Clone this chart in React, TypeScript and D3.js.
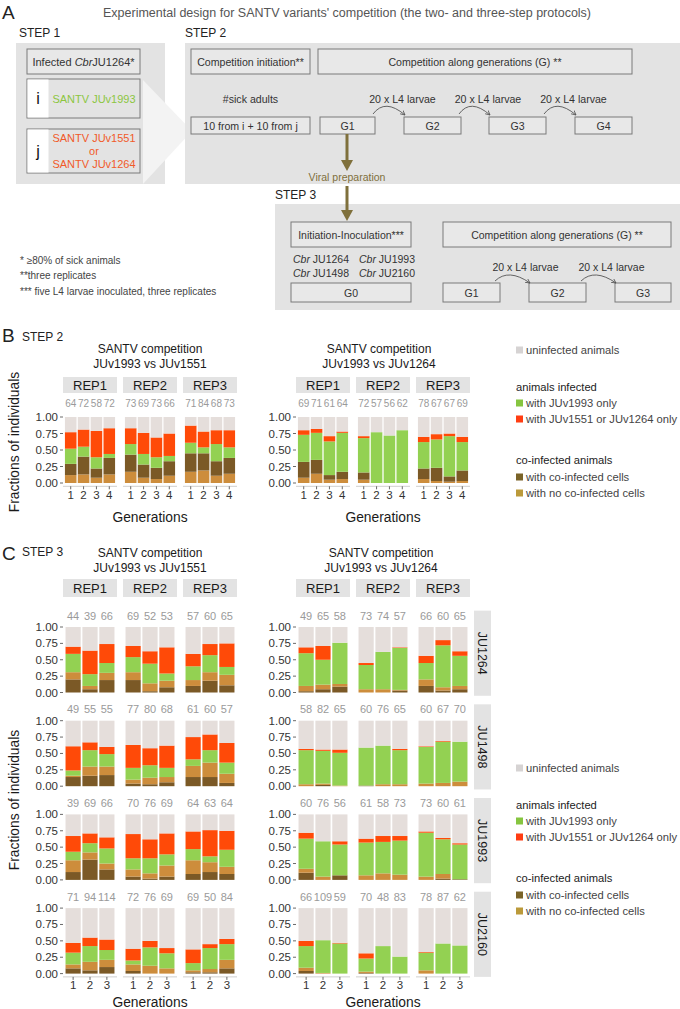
import React from "react";
import * as d3 from "d3";

const FONT = "'Liberation Sans', Arial, Helvetica, sans-serif";

// ---------- categories ----------
const REPS = ["REP1", "REP2", "REP3"];
const GENS_STEP2 = ["1", "2", "3", "4"];
const GENS_STEP3 = ["1", "2", "3"];
const HOSTS = ["JU1264", "JU1498", "JU1993", "JU2160"];
const Y_TICKS = [0, 0.25, 0.5, 0.75, 1];
const Y_TICK_LABELS = ["0.00", "0.25", "0.50", "0.75", "1.00"];

// ---------- STEP 2 (panel B) : cumulative tops [lowest, 2nd, JUv1993, other] ----------
// stacking from bottom in B: no co-infected cells, co-infected cells, JUv1993 only, other only
const B_1551_COUNTS = [64, 72, 58, 72, 73, 69, 73, 66, 71, 84, 68, 73];
const B_1551_TOPS = [
  [0.12, 0.29, 0.52, 0.77], [0.13, 0.40, 0.55, 0.81], [0.08, 0.22, 0.39, 0.79], [0.13, 0.38, 0.44, 0.83],
  [0.17, 0.43, 0.59, 0.83], [0.08, 0.28, 0.44, 0.76], [0.06, 0.23, 0.39, 0.69], [0.11, 0.33, 0.41, 0.75],
  [0.17, 0.45, 0.61, 0.87], [0.19, 0.45, 0.54, 0.78], [0.11, 0.33, 0.59, 0.80], [0.14, 0.38, 0.54, 0.80],
];
const B_1264_COUNTS = [69, 71, 61, 64, 72, 57, 56, 62, 78, 67, 67, 69];
const B_1264_TOPS = [
  [0.08, 0.32, 0.73, 0.80], [0.14, 0.35, 0.76, 0.82], [0.05, 0.12, 0.63, 0.71], [0.06, 0.17, 0.76, 0.78],
  [0.05, 0.16, 0.68, 0.71], [0, 0, 0.77, 0.77], [0, 0, 0.72, 0.72], [0, 0, 0.80, 0.80],
  [0.06, 0.22, 0.62, 0.70], [0.03, 0.23, 0.66, 0.74], [0.02, 0.10, 0.71, 0.75], [0.03, 0.19, 0.62, 0.70],
];

// ---------- STEP 3 (panel C) : cumulative tops [co-infected cells, no co-inf cells, JUv1993, other] ----------
const C_1551_COUNTS = [
  [44, 39, 66, 69, 52, 53, 57, 60, 65],
  [49, 55, 55, 77, 80, 68, 61, 60, 57],
  [39, 69, 66, 70, 76, 69, 64, 63, 64],
  [71, 94, 114, 72, 76, 69, 69, 50, 84],
];
const C_1551_JU1264 = [
  [0.20, 0.31, 0.59, 0.70], [0.05, 0.10, 0.28, 0.64], [0.19, 0.30, 0.45, 0.74],
  [0.19, 0.31, 0.54, 0.71], [0.02, 0.14, 0.44, 0.63], [0.08, 0.18, 0.29, 0.69],
  [0.10, 0.19, 0.40, 0.59], [0.18, 0.31, 0.57, 0.74], [0.11, 0.27, 0.39, 0.75],
];
const C_1551_JU1498 = [
  [0.14, 0.16, 0.24, 0.61], [0.16, 0.30, 0.55, 0.67], [0.17, 0.30, 0.49, 0.60],
  [0.04, 0.10, 0.28, 0.63], [0.03, 0.13, 0.32, 0.58], [0.06, 0.14, 0.28, 0.62],
  [0.14, 0.31, 0.41, 0.75], [0.14, 0.36, 0.55, 0.79], [0.05, 0.19, 0.36, 0.66],
];
const C_1551_JU1993 = [
  [0.12, 0.30, 0.43, 0.67], [0.31, 0.42, 0.56, 0.71], [0.16, 0.25, 0.48, 0.65],
  [0.05, 0.16, 0.33, 0.70], [0.02, 0.10, 0.33, 0.62], [0.05, 0.22, 0.39, 0.71],
  [0.09, 0.30, 0.47, 0.74], [0.12, 0.27, 0.36, 0.76], [0.09, 0.20, 0.46, 0.75],
];
const C_1551_JU2160 = [
  [0.08, 0.14, 0.32, 0.47], [0.05, 0.18, 0.42, 0.55], [0.10, 0.21, 0.36, 0.52],
  [0.04, 0.14, 0.20, 0.38], [0, 0.12, 0.40, 0.50], [0, 0.08, 0.31, 0.39],
  [0.02, 0.05, 0.16, 0.37], [0.02, 0.07, 0.39, 0.45], [0.08, 0.21, 0.45, 0.53],
];
const C_1264_COUNTS = [
  [49, 65, 58, 73, 74, 57, 66, 60, 65],
  [58, 82, 65, 60, 76, 65, 60, 67, 70],
  [60, 76, 56, 61, 58, 73, 73, 60, 61],
  [66, 109, 59, 70, 48, 83, 78, 87, 62],
];
const C_1264_JU1264 = [
  [0.02, 0.10, 0.60, 0.69], [0.05, 0.12, 0.50, 0.71], [0.09, 0.13, 0.76, 0.76],
  [0, 0.05, 0.42, 0.45], [0, 0.05, 0.62, 0.62], [0.03, 0.04, 0.68, 0.69],
  [0.10, 0.20, 0.45, 0.56], [0.03, 0.08, 0.72, 0.80], [0.05, 0.10, 0.56, 0.63],
];
const C_1264_JU1498 = [
  [0, 0.03, 0.55, 0.57], [0.02, 0.04, 0.54, 0.56], [0, 0.01, 0.51, 0.56],
  [0.01, 0.01, 0.59, 0.59], [0, 0.03, 0.62, 0.62], [0, 0.03, 0.55, 0.57],
  [0, 0.04, 0.60, 0.61], [0, 0.05, 0.68, 0.69], [0, 0.07, 0.68, 0.68],
];
const C_1264_JU1993 = [
  [0.11, 0.17, 0.63, 0.72], [0, 0.05, 0.59, 0.59], [0.07, 0.07, 0.54, 0.59],
  [0, 0.07, 0.57, 0.63], [0, 0.10, 0.58, 0.67], [0, 0.08, 0.60, 0.67],
  [0, 0.05, 0.72, 0.74], [0.02, 0.09, 0.62, 0.64], [0.01, 0.01, 0.54, 0.56],
];
const C_1264_JU2160 = [
  [0.04, 0.09, 0.42, 0.50], [0, 0.01, 0.51, 0.51], [0, 0, 0.46, 0.47],
  [0.01, 0.03, 0.23, 0.31], [0, 0, 0.42, 0.42], [0, 0, 0.26, 0.26],
  [0, 0.05, 0.32, 0.33], [0, 0, 0.46, 0.46], [0, 0, 0.43, 0.43],
];
const C_1551_ROWS = [C_1551_JU1264, C_1551_JU1498, C_1551_JU1993, C_1551_JU2160];
const C_1264_ROWS = [C_1264_JU1264, C_1264_JU1498, C_1264_JU1993, C_1264_JU2160];

// ---------- legend ----------
const LEGEND_ITEMS = [
  { kind: "item", label: "uninfected animals", color: "#d6d3d3", dy: 0 },
  { kind: "head", label: "animals infected", dy: 37 },
  { kind: "item", label: "with JUv1993 only", color: "#86c540", dy: 53 },
  { kind: "item", label: "with JUv1551 or JUv1264 only", color: "#ff3d12", dy: 69 },
  { kind: "head", label: "co-infected animals", dy: 110 },
  { kind: "item", label: "with co-infected cells", color: "#7a6328", dy: 127 },
  { kind: "item", label: "with no co-infected cells", color: "#bb9a3a", dy: 143 },
];

// ---------- styling ----------
const COL = {
  tan: "#cd8d3c",
  brown: "#7b5926",
  green: "#93d152",
  red: "#ff4a08",
  unin: "#e5dedb",
};
const KEYS = ["a", "b", "g", "r", "u"];
const COLORS_B = { a: COL.tan, b: COL.brown, g: COL.green, r: COL.red, u: COL.unin };
const COLORS_C = { a: COL.brown, b: COL.tan, g: COL.green, r: COL.red, u: COL.unin };
const PW = 54;
const PGAP = 6;
const LEFT_X = 63;
const RIGHT_X = 296;
const TXT = "#333";
const OLIVE = "#7f703c";

function Facets(props: any) {
  const { x0, y, tops, counts, gens, colors, xAxis, countDy, countSize, id } = props;
  const xb = d3.scaleBand<string>().domain(gens).range([0, PW]).paddingInner(0.1).paddingOuter(0.15);
  const rows = tops.map((t: number[]) => ({
    a: t[0], b: t[1] - t[0], g: t[2] - t[1], r: t[3] - t[2], u: Math.max(0, 1 - t[3]),
  }));
  const series = d3.stack<any>().keys(KEYS)(rows);
  const n = gens.length;
  const els: any[] = [];
  series.forEach((s: any) => {
    s.forEach((d: any, i: number) => {
      const h = y(d[0]) - y(d[1]);
      if (h <= 0.05) return;
      const p = Math.floor(i / n);
      const g = gens[i % n];
      els.push(
        <rect key={id + s.key + i} x={x0 + p * (PW + PGAP) + (xb(g) as number)} y={y(d[1])}
          width={xb.bandwidth()} height={h} fill={colors[s.key]} />
      );
    });
  });
  const countEls = counts.map((c: number, i: number) => {
    const p = Math.floor(i / n);
    const g = gens[i % n];
    return (
      <text key={id + "c" + i} x={x0 + p * (PW + PGAP) + (xb(g) as number) + xb.bandwidth() / 2}
        y={y(1) - countDy} textAnchor="middle" fontSize={countSize} fill="#9a9a9a">{c}</text>
    );
  });
  const yAxis = Y_TICKS.map((t, i) => (
    <g key={id + "y" + i}>
      <line x1={x0 - 3} x2={x0} y1={y(t)} y2={y(t)} stroke="#444" strokeWidth={0.8} />
      <text x={x0 - 5} y={y(t) + 4} textAnchor="end" fontSize={11.5} fill={TXT}>{Y_TICK_LABELS[i]}</text>
    </g>
  ));
  const axisY = y(-0.05);
  const xAxisEls = xAxis
    ? REPS.map((r, p) => (
        <g key={id + "x" + p}>
          <line x1={x0 + p * (PW + PGAP)} x2={x0 + p * (PW + PGAP) + PW} y1={axisY} y2={axisY} stroke="#cfcfcf" strokeWidth={1} />
          {gens.map((g: string) => {
            const cx = x0 + p * (PW + PGAP) + (xb(g) as number) + xb.bandwidth() / 2;
            return (
              <g key={g}>
                <line x1={cx} x2={cx} y1={axisY} y2={axisY + 3} stroke="#444" strokeWidth={0.8} />
                <text x={cx} y={axisY + 12.5} textAnchor="middle" fontSize={11.5} fill={TXT}>{g}</text>
              </g>
            );
          })}
        </g>
      ))
    : null;
  return <g>{els}{countEls}{yAxis}{xAxisEls}</g>;
}

function Strips({ x0, y, h }: any) {
  return (
    <g>
      {REPS.map((r, p) => (
        <g key={r}>
          <rect x={x0 + p * (PW + PGAP)} y={y} width={PW} height={h} fill="#e3e3e3" />
          <text x={x0 + p * (PW + PGAP) + PW / 2} y={y + h / 2 + 4.5} textAnchor="middle" fontSize={13} fill="#1a1a1a">{r}</text>
        </g>
      ))}
    </g>
  );
}

function Legend({ y }: any) {
  return (
    <g>
      {LEGEND_ITEMS.map((it: any, i) =>
        it.kind === "head" ? (
          <text key={i} x={516} y={y + it.dy + 4} fontSize={11.2} fill="#222">{it.label}</text>
        ) : (
          <g key={i}>
            <rect x={516} y={y + it.dy - 3.5} width={7} height={7} fill={it.color} />
            <text x={526} y={y + it.dy + 4} fontSize={11.2} fill="#444">{it.label}</text>
          </g>
        )
      )}
    </g>
  );
}

function Box({ x, y, w, h, fill = "#e8e8e8" }: any) {
  return <rect x={x} y={y} width={w} height={h} fill={fill} stroke="#7a7a7a" strokeWidth={1} />;
}

function CurvedArrow({ x1, y1, x2, y2, cy }: any) {
  const cx = (x1 + x2) / 2 - 4;
  return <path d={`M${x1},${y1} Q${cx},${cy} ${x2},${y2}`} fill="none" stroke="#555" strokeWidth={0.9} markerEnd="url(#arrSmall)" />;
}

function Diagram() {
  const t = { fontSize: 10.6, fill: TXT };
  const gTop = [
    { label: "G1", x: 320, w: 55 },
    { label: "G2", x: 404, w: 57 },
    { label: "G3", x: 489, w: 57 },
    { label: "G4", x: 575, w: 57 },
  ];
  const g3 = [
    { label: "G1", x: 443, w: 57 },
    { label: "G2", x: 529, w: 57 },
    { label: "G3", x: 615, w: 56 },
  ];
  return (
    <g>
      <defs>
        <marker id="arrSmall" markerWidth="6" markerHeight="6" refX="5" refY="3" orient="auto">
          <path d="M0,0.5 L5,3 L0,5.5" fill="none" stroke="#555" strokeWidth={0.9} />
        </marker>
      </defs>
      <text x={2} y={19} fontSize={19} fill="#222">A</text>
      <text x={103} y={17} fontSize={12.5} fill="#555">Experimental design for SANTV  variants' competition (the two- and three-step protocols)</text>
      <text x={19} y={37} fontSize={12} fill="#222">STEP 1</text>
      <text x={185} y={37} fontSize={12} fill="#222">STEP 2</text>

      {/* step 1 */}
      <rect x={16} y={43} width={149} height={141} fill="#e3e3e3" />
      <polygon points="143,80 192,131 143,184" fill="#f3f3f3" />
      <Box x={27} y={49} w={113} h={25} />
      <text x={83.5} y={65.5} textAnchor="middle" fontSize={11} fill={TXT}>Infected <tspan fontStyle="italic">Cbr</tspan>JU1264*</text>
      <rect x={27} y={79} width={113} height={39} fill="#e3e3e3" stroke="#7a7a7a" />
      <rect x={27.5} y={79.5} width={21} height={38} fill="#fff" />
      <text x={38} y={104} textAnchor="middle" fontSize={16} fill="#111">i</text>
      <text x={94} y={103} textAnchor="middle" fontSize={11} fill="#8cc63f">SANTV JUv1993</text>
      <rect x={27} y={129} width={113} height={44} fill="#e3e3e3" stroke="#7a7a7a" />
      <rect x={27.5} y={129.5} width={21} height={43} fill="#fff" />
      <text x={38} y={157} textAnchor="middle" fontSize={16} fill="#111">j</text>
      <text x={94} y={142} textAnchor="middle" fontSize={11} fill="#f15a29">SANTV JUv1551</text>
      <text x={94} y={155} textAnchor="middle" fontSize={11} fill="#f15a29">or</text>
      <text x={94} y={168} textAnchor="middle" fontSize={11} fill="#f15a29">SANTV JUv1264</text>

      {/* step 2 */}
      <rect x={185} y={43} width={495} height={141} fill="#e3e3e3" />
      <Box x={191} y={49} w={119} h={25} />
      <text x={250.5} y={65.5} textAnchor="middle" {...t}>Competition initiation**</text>
      <Box x={318} y={49} w={314} h={25} />
      <text x={475} y={65.5} textAnchor="middle" {...t}>Competition along generations (G) **</text>
      <text x={250.5} y={103} textAnchor="middle" {...t}>#sick adults</text>
      <Box x={191} y={117} w={119} h={17} />
      <text x={250.5} y={129.5} textAnchor="middle" {...t}>10 from i + 10 from j</text>
      {gTop.map((g) => (
        <g key={g.label}>
          <Box x={g.x} y={117} w={g.w} h={17} />
          <text x={g.x + g.w / 2} y={129.5} textAnchor="middle" {...t}>{g.label}</text>
        </g>
      ))}
      {[0, 1, 2].map((i) => {
        const a = gTop[i];
        const b = gTop[i + 1];
        const mid = (a.x + a.w + b.x) / 2;
        return (
          <g key={i}>
            <text x={mid + 13} y={103} textAnchor="middle" {...t}>20 x L4 larvae</text>
            <CurvedArrow x1={a.x + a.w - 2} y1={114} x2={b.x + 1} y2={115} cy={98} />
          </g>
        );
      })}
      {/* viral preparation arrows */}
      <line x1={347} x2={347} y1={134} y2={161} stroke={OLIVE} strokeWidth={3} />
      <polygon points="341,160 353,160 347,171" fill={OLIVE} />
      <text x={347} y={181} textAnchor="middle" fontSize={10.5} fill={OLIVE}>Viral preparation</text>
      <line x1={347} x2={347} y1={186} y2={211} stroke={OLIVE} strokeWidth={3} />
      <polygon points="341,210 353,210 347,221" fill={OLIVE} />

      {/* step 3 */}
      <text x={275} y={199} fontSize={12} fill="#222">STEP 3</text>
      <rect x={275} y={204} width={405} height={106} fill="#e3e3e3" />
      <line x1={347} x2={347} y1={204} y2={211} stroke={OLIVE} strokeWidth={3} />
      <polygon points="341,210 353,210 347,221" fill={OLIVE} />
      <Box x={291} y={222} w={120} h={25} />
      <text x={351} y={238.5} textAnchor="middle" fontSize={10.5} fill={TXT}>Initiation-Inoculation***</text>
      <Box x={443} y={222} w={228} h={25} />
      <text x={557} y={238.5} textAnchor="middle" fontSize={10.5} fill={TXT}>Competition along generations (G) **</text>
      <text x={293} y={263} fontSize={10.5} fill={TXT}><tspan fontStyle="italic">Cbr</tspan> JU1264</text>
      <text x={359} y={263} fontSize={10.5} fill={TXT}><tspan fontStyle="italic">Cbr</tspan> JU1993</text>
      <text x={293} y={277} fontSize={10.5} fill={TXT}><tspan fontStyle="italic">Cbr</tspan> JU1498</text>
      <text x={359} y={277} fontSize={10.5} fill={TXT}><tspan fontStyle="italic">Cbr</tspan> JU2160</text>
      <Box x={291} y={283} w={120} h={19} />
      <text x={351} y={296.5} textAnchor="middle" fontSize={10.5} fill={TXT}>G0</text>
      {g3.map((g) => (
        <g key={"s3" + g.label}>
          <Box x={g.x} y={283} w={g.w} h={19} />
          <text x={g.x + g.w / 2} y={296.5} textAnchor="middle" fontSize={10.5} fill={TXT}>{g.label}</text>
        </g>
      ))}
      {[0, 1].map((i) => {
        const a = g3[i];
        const b = g3[i + 1];
        const mid = (a.x + a.w + b.x) / 2;
        return (
          <g key={"s3a" + i}>
            <text x={mid + 11} y={271} textAnchor="middle" fontSize={10.5} fill={TXT}>20 x L4 larvae</text>
            <CurvedArrow x1={a.x + a.w - 5} y1={281} x2={b.x + 1} y2={283} cy={268} />
          </g>
        );
      })}

      {/* footnotes */}
      <text x={20} y={264} fontSize={10} fill="#444">* ≥80% of sick animals</text>
      <text x={20} y={279} fontSize={10} fill="#444">**three replicates</text>
      <text x={20} y={295} fontSize={10} fill="#444">*** five L4 larvae inoculated, three replicates</text>
    </g>
  );
}

function GroupTitles({ cx, y, line2 }: any) {
  return (
    <g>
      <text x={cx} y={y} textAnchor="middle" fontSize={12} fill="#1a1a1a">SANTV competition</text>
      <text x={cx} y={y + 14.5} textAnchor="middle" fontSize={12} fill="#1a1a1a">{line2}</text>
    </g>
  );
}

export default function App() {
  const yB = d3.scaleLinear().domain([0, 1]).range([483, 417]);
  const rowTop = (r: number) => 627 + r * 93.7;
  const yC = (r: number) => d3.scaleLinear().domain([0, 1]).range([rowTop(r) + 65.5, rowTop(r)]);
  const leftCx = LEFT_X + (3 * PW + 2 * PGAP) / 2;
  const rightCx = RIGHT_X + (3 * PW + 2 * PGAP) / 2 - 4;

  return (
    <svg width={680} height={1009} style={{ position: "absolute", left: 0, top: 0, fontFamily: FONT }}>
      <rect width={680} height={1009} fill="#fff" />
      <Diagram />

      {/* ---------- Panel B ---------- */}
      <text x={2} y={342} fontSize={19} fill="#222">B</text>
      <text x={22} y={341} fontSize={12} fill="#222">STEP 2</text>
      <GroupTitles cx={leftCx} y={353} line2="JUv1993 vs JUv1551" />
      <GroupTitles cx={rightCx} y={353} line2="JUv1993 vs JUv1264" />
      <Strips x0={LEFT_X} y={377} h={16} />
      <Strips x0={RIGHT_X} y={377} h={16} />
      <Facets id="bl" x0={LEFT_X} y={yB} tops={B_1551_TOPS} counts={B_1551_COUNTS} gens={GENS_STEP2}
        colors={COLORS_B} xAxis countDy={10} countSize={10} />
      <Facets id="br" x0={RIGHT_X} y={yB} tops={B_1264_TOPS} counts={B_1264_COUNTS} gens={GENS_STEP2}
        colors={COLORS_B} xAxis countDy={10} countSize={10} />
      <text transform="translate(19,442) rotate(-90)" textAnchor="middle" fontSize={13.8} fill="#1a1a1a">Fractions of individuals</text>
      <text x={leftCx} y={522} textAnchor="middle" fontSize={13.8} fill="#1a1a1a">Generations</text>
      <text x={rightCx + 4} y={522} textAnchor="middle" fontSize={13.8} fill="#1a1a1a">Generations</text>
      <Legend y={350} />

      {/* ---------- Panel C ---------- */}
      <text x={2} y={560} fontSize={19} fill="#222">C</text>
      <text x={22} y={556} fontSize={12} fill="#222">STEP 3</text>
      <GroupTitles cx={leftCx} y={557} line2="JUv1993 vs JUv1551" />
      <GroupTitles cx={rightCx + 2} y={557} line2="JUv1993 vs JUv1264" />
      <Strips x0={LEFT_X} y={579} h={18} />
      <Strips x0={RIGHT_X} y={579} h={18} />
      {HOSTS.map((h, r) => {
        const y = yC(r);
        return (
          <g key={h}>
            <Facets id={"cl" + r} x0={LEFT_X} y={y} tops={C_1551_ROWS[r]} counts={C_1551_COUNTS[r]} gens={GENS_STEP3}
              colors={COLORS_C} xAxis={r === 3} countDy={7.5} countSize={11} />
            <Facets id={"cr" + r} x0={RIGHT_X} y={y} tops={C_1264_ROWS[r]} counts={C_1264_COUNTS[r]} gens={GENS_STEP3}
              colors={COLORS_C} xAxis={r === 3} countDy={7.5} countSize={11} />
            <rect x={474} y={y(1.25)} width={17} height={y(-0.05) - y(1.25)} fill="#e3e3e3" />
            <text transform={`translate(478,${(y(1.25) + y(-0.05)) / 2}) rotate(90)`} textAnchor="middle"
              fontSize={12.5} fill="#1a1a1a">{h}</text>
          </g>
        );
      })}
      <text transform="translate(19,800) rotate(-90)" textAnchor="middle" fontSize={13.8} fill="#1a1a1a">Fractions of individuals</text>
      <text x={leftCx} y={1007} textAnchor="middle" fontSize={13.8} fill="#1a1a1a">Generations</text>
      <text x={rightCx + 4} y={1007} textAnchor="middle" fontSize={13.8} fill="#1a1a1a">Generations</text>
      <Legend y={768} />
    </svg>
  );
}
